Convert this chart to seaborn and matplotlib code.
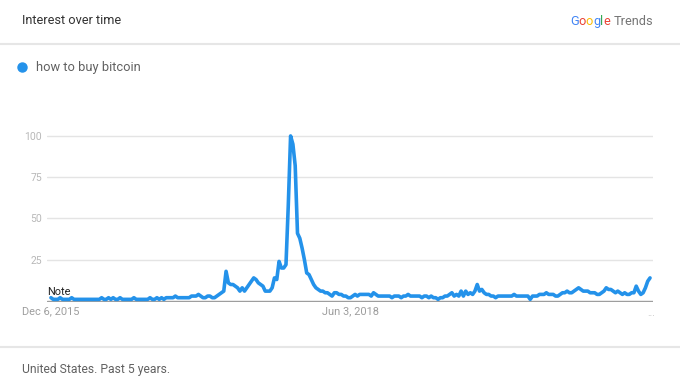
import numpy as np
import pandas as pd
import matplotlib
matplotlib.use("Agg")
import matplotlib.pyplot as plt
import seaborn as sns
from matplotlib.lines import Line2D

# ---------------- data ----------------
series_name = "how to buy bitcoin"
start_date = "2015-12-06"
interest = [
    2, 1, 1, 1, 2, 1, 1, 1, 1, 2,
    1, 1, 1, 1, 1, 1, 1, 1, 1, 1,
    1, 1, 2, 1, 1, 2, 1, 2, 1, 1,
    2, 1, 1, 1, 1, 1, 2, 1, 1, 1,
    1, 1, 1, 2, 1, 1, 2, 1, 2, 1,
    2, 2, 2, 2, 3, 2,
    2, 2, 2, 2, 2, 3, 3, 3, 4, 3,
    2, 2, 3, 3, 2, 2, 3, 4, 5, 6,
    18, 11, 10, 10, 9, 8, 6, 8, 6, 8,
    10, 12, 14, 13, 11, 10, 9, 6, 6, 6,
    8, 14, 13, 24, 20, 20, 22, 58, 100, 95,
    82, 41, 38, 32, 25, 17, 16, 13, 10, 8,
    7, 6, 6, 5, 5, 4, 3, 5, 5, 4,
    4, 3, 3, 2, 2, 3, 4, 3, 4, 4,
    4, 4, 4, 3, 5, 4, 3, 3, 3, 3,
    3, 3, 2, 3, 3, 3, 2, 3, 3, 4,
    3, 3, 3, 3, 3, 2, 3, 3, 2, 3,
    2, 2, 1, 2, 2, 3, 3, 4, 5, 3,
    4, 3, 6, 3, 6, 4, 5, 4, 6, 10,
    6, 7, 5, 4, 4, 3, 3, 2, 3, 3,
    3, 3, 3, 3, 3, 4, 3, 3, 3, 3,
    3, 3, 1, 3, 3, 3, 4, 4, 4, 5,
    4, 4, 4, 3, 3, 4, 5, 5, 6, 5,
    5, 6, 7, 8, 7, 6, 6, 6, 5, 5,
    5, 4, 4, 5, 6, 8, 7, 7, 6, 5,
    6, 5, 4, 5, 4, 4, 5, 5, 9, 6,
    4, 5, 8, 12, 14,
]
y_ticks = [25, 50, 75, 100]
tick_dates = ["2015-12-06", "2018-06-03"]
tick_labels = ["Dec 6, 2015", "Jun 3, 2018"]

BLUE = "#2492ea"

# ---------------- style ----------------
sns.set_theme(style="white")
plt.rcParams["font.family"] = ["Roboto", "DejaVu Sans"]

W, H = 680, 391
fig = plt.figure(figsize=(6.8, 3.91), dpi=100)
fig.patch.set_facecolor("white")


def fx(px):
    return px / W


def fy(py):
    return 1 - py / H


ax = fig.add_axes([fx(47), fy(302), fx(653) - fx(47), fy(130) - fy(302)])

dates = pd.date_range(start_date, periods=len(interest), freq="7D")
df = pd.DataFrame({"date": dates, "interest": interest})

ax.axhline(0, color="#9e9e9e", lw=1.0, zorder=1.5)
sns.lineplot(data=df, x="date", y="interest", ax=ax, color=BLUE,
             linewidth=2.6, legend=False, zorder=3)

ax.set_ylim(-0.6, 103.6)
ax.set_xlim(dates[0] - pd.Timedelta(days=12), dates[-1] + pd.Timedelta(days=9))
ax.set_yticks(y_ticks)
ax.set_yticklabels([str(v) for v in y_ticks])
ax.set_xticks(pd.to_datetime(tick_dates))
ax.set_xticklabels(tick_labels)
ax.yaxis.grid(True, color="#e4e4e4", lw=1.0)
ax.xaxis.grid(False)
ax.set_axisbelow(True)
for s in ax.spines.values():
    s.set_visible(False)
ax.tick_params(axis="y", length=0, pad=3.6, labelsize=7.5, labelcolor="#b8b8b8")
ax.tick_params(axis="x", length=0, pad=3.0, labelsize=7.9, labelcolor="#9e9e9e")
ax.set_xlabel("")
ax.set_ylabel("")
ax.set_facecolor("white")

# ---------------- decorations ----------------
fig.text(fx(22), fy(21), "Interest over time", fontsize=9.2,
         color="#333333", va="center", ha="left")

# separators
for yy in (44, 347):
    fig.add_artist(Line2D([0, 1], [fy(yy), fy(yy)], transform=fig.transFigure,
                          color="#e6e6e6", lw=1.5))

# legend
fig.add_artist(Line2D([fx(22)], [fy(67)], transform=fig.transFigure,
                      marker="o", markersize=6.5, color=BLUE, lw=0))
fig.text(fx(36), fy(67), series_name, fontsize=9.3, color="#616161",
         va="center", ha="left")

# Note label and trailing ellipsis
fig.text(fx(47), fy(292), "Note", fontsize=7.9, color="#222222",
         va="center", ha="left")
fig.text(fx(651), fy(313), "...", fontsize=7, color="#bdbdbd",
         va="center", ha="center")

# footer
fig.text(fx(22), fy(369), "United States. Past 5 years.", fontsize=8.7,
         color="#616161", va="center", ha="left")

# Google Trends logo
renderer = fig.canvas.get_renderer()
logo = "Google Trends"
logo_colors = ["#4285F4", "#EA4335", "#FBBC05", "#4285F4", "#34A853", "#EA4335"]
logo_size = 9.2


def text_width(s):
    t = fig.text(0, 0, s, fontsize=logo_size)
    w = t.get_window_extent(renderer).width
    t.remove()
    return w


total_w = text_width(logo)
x0 = 653 - total_w
base_y = fy(25)
for i, c in enumerate(logo_colors):
    off = text_width(logo[:i]) if i > 0 else 0
    fig.text(fx(x0 + off), base_y, logo[i], fontsize=logo_size, color=c,
             va="baseline", ha="left")
trend_off = total_w - text_width("Trends")
fig.text(fx(x0 + trend_off), base_y, "Trends", fontsize=logo_size,
         color="#757575", va="baseline", ha="left")

fig.savefig("out.png", dpi=100, facecolor="white")
